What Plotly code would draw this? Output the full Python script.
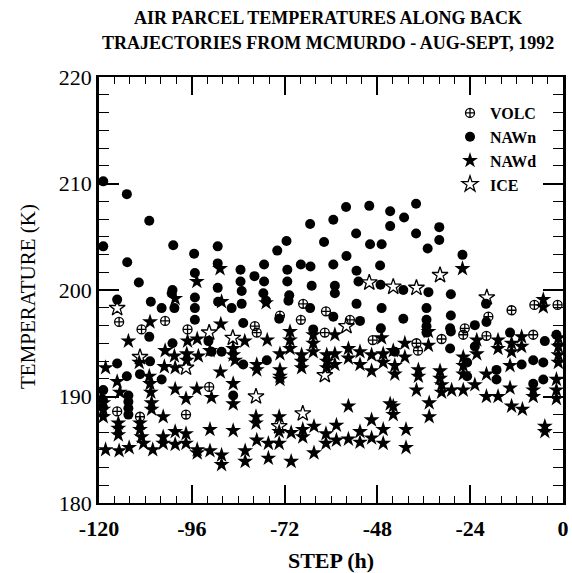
import plotly.graph_objects as go

# ---- data (hours, temperature K) ----
volc_x = [-114.8, -109.0, -102.9, -97.1, -91.5, -115.3, -109.4, -97.5, -73.2, -67.2, -67.8, -61.3,
          -55.1, -61.6, -79.7, -79.2, -49.2, -37.9, -37.5, -31.4, -25.4, -25.8, -19.3, -19.8,
          -13.3, -7.4, -1.4, -7.7]
volc_y = [197.0, 196.3, 197.1, 196.3, 190.9, 188.6, 188.1, 188.3, 197.6, 198.7, 197.2, 198.0,
          197.2, 196.0, 196.6, 196.0, 195.3, 195.0, 194.3, 195.4, 196.4, 195.8, 197.5, 195.7,
          198.1, 198.6, 198.6, 195.8]

nawn_x = [-118.9, -112.8, -107.0, -118.9, -100.8, -112.7, -95.4, -89.3, -89.3, -95.2, -109.7, -89.3, -101.0,
          -65.4, -59.4, -56.1, -50.1, -44.7, -44.7, -53.5, -61.8, -49.9, -46.9, -71.5, -73.9, -77.3,
          -79.8, -83.4, -67.8, -65.3, -59.4, -56.0, -53.4, -47.3, -71.3, -71.3, -77.3, -65.0, -59.0,
          -52.9, -47.2, -83.4,
          -38.0, -41.1, -38.0, -32.0, -32.0, -35.0, -26.0, -41.3, -34.8, -29.0, -19.9, -46.9, -41.3,
          -35.3, -35.3, -29.0, -19.8, -22.8, -29.2,
          -115.3, -106.6, -103.8, -100.5, -101.2, -107.0, -95.2, -95.2, -95.2, -89.2, -91.7, -101.0,
          -90.9, -88.3, -106.8, -115.3, -112.8, -109.4, -103.8, -118.9, -112.4, -112.4, -112.4, -112.4,
          -83.1, -83.1, -85.7, -77.5, -70.8, -71.0, -59.0, -65.4, -59.4, -73.4, -53.4, -52.5, -47.1,
          -82.7, -64.6, -82.7, -76.6, -85.3, -76.8,
          -35.3, -35.3, -29.0, -29.2, -13.7, -1.7, -4.7, -43.5, -24.8, -24.8, -22.8, -17.2, -17.2,
          -10.7, -7.7, -7.7, -5.1, -5.1, -119.0, -119.0]
nawn_y = [210.2, 209.0, 206.5, 204.1, 204.2, 202.6, 203.4, 204.1, 202.5, 201.6, 200.7, 200.2, 200.0,
          206.2, 206.6, 207.8, 207.9, 207.4, 206.0, 205.3, 204.5, 204.3, 204.3, 204.6, 203.7, 202.4,
          201.3, 201.9, 202.4, 202.2, 202.4, 203.2, 201.8, 202.3, 201.9, 200.8, 200.8, 200.4, 200.4,
          200.8, 200.5, 200.8,
          208.1, 206.8, 205.3, 205.9, 204.7, 203.9, 203.3, 200.0, 199.8, 199.6, 198.7, 198.3, 197.3,
          198.3, 197.2, 197.6, 197.0, 196.7, 196.4,
          199.1, 198.9, 198.3, 198.3, 199.7, 195.6, 199.3, 198.3, 197.2, 198.9, 195.2, 195.0,
          194.2, 194.2, 193.3, 193.1, 191.9, 192.1, 191.6, 190.6, 190.1, 189.5, 188.9, 188.3,
          199.9, 198.7, 198.3, 199.7, 199.5, 199.0, 199.7, 198.3, 197.5, 197.3, 198.7, 197.1, 196.4,
          196.9, 196.3, 193.0, 193.4, 190.1, 199.0,
          196.6, 196.0, 196.1, 194.5, 196.0, 195.8, 195.2, 194.2, 193.2, 191.9, 194.7, 192.5, 191.6,
          193.0, 193.4, 191.2, 193.2, 191.6, 189.7, 189.0]

nawd_x = [-88.7, -94.7, -26.0, -5.1, -5.1,
          -100.3, -106.8, -112.4, -88.5, -94.6, -97.1, -102.9, -100.5, -91.3, -94.3, -97.3, -97.3,
          -100.3, -103.1, -109.6, -118.3, -88.6, -107.0, -115.3, -106.8, -100.3, -94.7, -114.6, -90.9,
          -97.5, -106.6, -106.4, -106.4, -118.9, -118.9, -118.9, -115.0, -115.0, -115.0, -109.4, -109.4,
          -109.0, -108.5, -118.3, -114.8, -112.2, -106.1, -103.4, -103.4, -103.4, -100.3, -100.3, -97.5,
          -97.5, -94.6, -94.6, -91.3, -91.3, -88.3, -88.3,
          -88.3, -76.8, -64.6, -64.6, -64.6, -59.0, -70.6, -70.6, -70.6, -73.2, -76.5, -82.3, -85.3,
          -85.3, -84.8, -79.2, -79.2, -73.2, -73.2, -73.2, -67.6, -67.6, -67.6, -61.1, -61.1, -61.1,
          -59.0, -59.0, -55.5, -55.5, -52.5, -52.5, -49.5, -49.5, -46.5, -46.5, -46.9, -85.3, -85.3,
          -85.3, -79.4, -79.4, -79.2, -76.2, -76.2, -82.2, -82.2, -73.4, -73.4, -73.4, -70.3, -70.3,
          -67.3, -67.3, -64.4, -64.4, -61.3, -61.3, -58.6, -58.6, -55.5, -55.5, -52.5, -52.5, -49.5,
          -49.5, -46.5, -46.5, -44.7,
          -34.8, -34.8, -22.3, -16.8, -16.8, -10.7, -10.7, -13.3, -13.3, -1.2, -1.2, -1.2, -1.2,
          -43.9, -40.9, -40.9, -43.5, -43.5, -37.4, -37.4, -37.9, -31.8, -31.8, -31.4, -31.4, -28.8,
          -25.8, -25.8, -25.8, -25.8, -22.3, -22.8, -19.8, -19.8, -16.8, -13.7, -13.7, -13.3, -10.5,
          -7.7, -7.7, -4.7, -4.7, -1.7, -1.7, -1.7, -43.9, -43.9, -40.6, -40.6, -34.6, -34.6, -119.5]
nawd_y = [202.0, 200.8, 202.0, 199.1, 198.4,
          199.2, 197.0, 195.2, 196.8, 195.4, 195.2, 194.3, 193.8, 194.3, 193.8, 194.0, 193.4,
          192.7, 192.8, 193.2, 192.7, 192.3, 191.9, 191.4, 191.2, 190.7, 190.7, 190.4, 189.9,
          189.8, 190.4, 189.4, 188.8, 189.4, 188.8, 188.1, 187.5, 187.0, 186.4, 187.5, 186.9,
          186.2, 185.6, 185.0, 184.9, 185.2, 185.0, 188.1, 186.2, 185.6, 186.7, 185.5, 186.5,
          185.6, 185.0, 184.7, 186.9, 184.9, 184.5, 183.6,
          198.9, 198.8, 195.8, 195.0, 194.2, 195.8, 196.1, 195.3, 194.5, 194.0, 195.3, 195.2, 194.5,
          193.9, 193.4, 193.0, 192.5, 192.5, 191.9, 191.6, 193.9, 193.3, 192.7, 193.9, 193.3, 192.7,
          194.0, 193.0, 194.5, 193.6, 194.2, 193.0, 193.9, 192.4, 194.0, 193.2, 195.5, 191.2, 189.3,
          186.8, 188.1, 187.5, 185.9, 185.6, 184.2, 184.9, 183.9, 188.1, 186.7, 185.6, 186.6, 183.9,
          186.9, 186.2, 187.2, 184.7, 186.5, 185.6, 187.3, 185.9, 189.1, 186.0, 186.7, 185.7, 187.8,
          186.1, 186.9, 185.6, 189.3,
          196.1, 194.8, 195.3, 195.3, 194.5, 195.6, 194.7, 195.0, 194.2, 195.5, 194.7, 193.9, 193.2,
          194.3, 195.0, 193.7, 192.9, 192.1, 192.5, 191.9, 190.6, 192.4, 191.7, 191.1, 190.4, 190.6,
          193.7, 192.9, 192.1, 190.6, 194.0, 191.1, 192.1, 190.0, 190.0, 192.9, 190.8, 189.1, 188.8,
          190.6, 190.0, 187.2, 186.7, 191.6, 190.6, 189.8, 189.1, 188.3, 186.9, 185.2, 189.4, 188.1, 189.8]

ice_x = [-115.3, -109.4, -97.5, -91.5, -85.4, -79.4, -73.4, -67.3, -61.6, -56.0, -50.1, -43.9,
         -37.9, -31.8, -19.7]
ice_y = [198.3, 193.7, 192.7, 196.0, 195.5, 190.0, 187.2, 188.4, 192.0, 196.6, 200.7, 200.3,
         200.2, 201.4, 199.3]

x_ticks = [-120, -96, -72, -48, -24, 0]
y_ticks = [180, 190, 200, 210, 220]
title_lines = ["AIR PARCEL TEMPERATURES ALONG BACK",
               "TRAJECTORIES FROM MCMURDO - AUG-SEPT, 1992"]
y_title = "TEMPERATURE (K)"
x_title = "STEP (h)"

FONT = "Liberation Serif"

fig = go.Figure()
fig.add_trace(go.Scatter(x=volc_x, y=volc_y, mode="markers", name="VOLC",
                         marker=dict(symbol="circle-cross-open", size=9, color="black",
                                     line=dict(width=1.3, color="black"))))
fig.add_trace(go.Scatter(x=nawn_x, y=nawn_y, mode="markers", name="NAWn",
                         marker=dict(symbol="circle", size=10, color="black")))
fig.add_trace(go.Scatter(x=nawd_x, y=nawd_y, mode="markers", name="NAWd",
                         marker=dict(symbol="star", size=12, color="black")))
fig.add_trace(go.Scatter(x=ice_x, y=ice_y, mode="markers", name="ICE",
                         marker=dict(symbol="star-open", size=12, color="black",
                                     line=dict(width=1.3, color="black"))))

# title as two centred bold lines
for txt, shift in zip(title_lines, [59, 34]):
    fig.add_annotation(text=txt, xref="paper", yref="paper", x=0.4935, y=1,
                       xanchor="center", yanchor="middle", yshift=shift, showarrow=False,
                       font=dict(family=FONT, size=18, weight="bold", color="black"))

# y-axis title
fig.add_annotation(text=y_title, xref="paper", yref="paper", x=-0.153, y=0.4836,
                   xanchor="center", yanchor="middle", textangle=-90, showarrow=False,
                   font=dict(family=FONT, size=21, color="black"))

fig.update_layout(
    width=572, height=573,
    margin=dict(l=99, r=9, t=77, b=70),
    paper_bgcolor="white", plot_bgcolor="white",
    font=dict(family=FONT, color="black"),
    legend=dict(x=0.7565, y=0.9554, xanchor="left", yanchor="top",
                bgcolor="rgba(0,0,0,0)", borderwidth=0,
                font=dict(family=FONT, size=16, weight="bold", color="black"),
                itemwidth=30, tracegroupgap=0),
    showlegend=True,
)

fig.update_xaxes(
    range=[-120, 0], tickvals=x_ticks, ticktext=[str(v) for v in x_ticks],
    showgrid=False, zeroline=False, showline=True, linewidth=2, linecolor="black",
    mirror="ticks", ticks="inside", ticklen=18, tickwidth=1.5, tickcolor="black",
    minor=dict(ticks="inside", dtick=4, tick0=-120, ticklen=7, tickwidth=1.2, tickcolor="black"),
    tickfont=dict(family=FONT, size=22, weight="bold", color="black"),
    ticklabelstandoff=5, automargin=False,
    title=dict(text=x_title, font=dict(family=FONT, size=22, weight="bold", color="black"), standoff=12),
)
fig.update_yaxes(
    range=[180, 220], tickvals=y_ticks, ticktext=[str(v) for v in y_ticks],
    showgrid=False, zeroline=False, showline=True, linewidth=2.5, linecolor="black",
    mirror="ticks", ticks="inside", ticklen=20, tickwidth=1.5, tickcolor="black",
    minor=dict(ticks="inside", dtick=10 / 6, tick0=180, ticklen=10, tickwidth=1.2, tickcolor="black"),
    tickfont=dict(family=FONT, size=22, color="black"), automargin=False,
)

# remove the browser's default 8px page margin so the 572x573 figure fills the window exactly
fig.write_html("out.html", config={"displayModeBar": False},
               post_script="document.body.style.margin='0';")
